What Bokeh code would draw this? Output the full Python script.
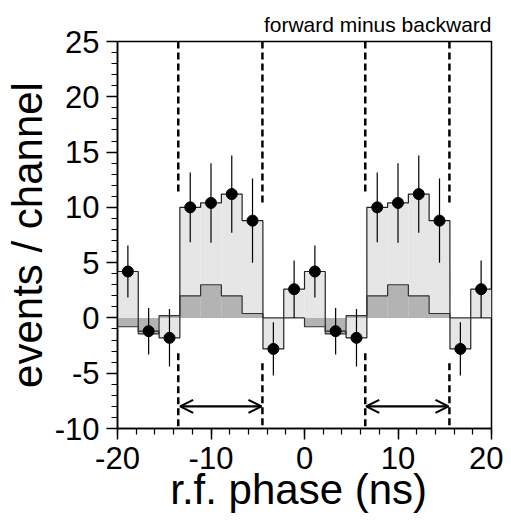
from bokeh.plotting import figure
from bokeh.models import Arrow, OpenHead, FixedTicker, ColumnDataSource
from bokeh.embed import file_html
from bokeh.resources import INLINE

# ---- data ----
bin_centers = [-18.89, -16.67, -14.44, -12.22, -10.0, -7.78, -5.56, -3.33, -1.11,
               1.11, 3.33, 5.56, 7.78, 10.0, 12.22, 14.44, 16.67, 18.89]
bin_width = 2.222
counts = [4.2, -1.2, -1.8, 10.0, 10.4, 11.2, 8.8, -2.8, 2.6,
          4.2, -1.2, -1.8, 10.0, 10.4, 11.2, 8.8, -2.8, 2.6]
errors = [2.35, 2.1, 2.6, 3.15, 3.6, 3.5, 3.8, 2.4, 2.6,
          2.35, 2.1, 2.6, 3.15, 3.6, 3.5, 3.8, 2.4, 2.6]
background = [-0.8, -1.45, 0.2, 2.0, 3.0, 2.0, 0.4, 0.0, 0.0,
              -0.8, -1.45, 0.2, 2.0, 3.0, 2.0, 0.4, 0.0, 0.0]

window_edges = [-13.5, -4.5, 6.5, 15.5]
window_upper_end = [11.1, 10.1, 11.1, 10.1]
window_lower_start = [-3.2, -4.1, -3.2, -4.1]
arrow_starts = [-13.3, 6.6]
arrow_ends = [-4.6, 15.4]
arrow_level = -8.0

x_ticks = [-20, -10, 0, 10, 20]
x_tick_labels = ["-20", "-10", "0", "10", "20"]
x_minor = [-20, -18, -16, -14, -12, -10, -8, -6, -4, -2, 0, 2, 4, 6, 8, 10, 12, 14, 16, 18, 20]
y_ticks = [-10, -5, 0, 5, 10, 15, 20, 25]
y_tick_labels = ["-10", "-5", "0", "5", "10", "15", "20", "25"]
y_minor = list(range(-10, 26))

FONT = "Liberation Sans"

p = figure(frame_width=374, frame_height=387, x_range=(-20, 20), y_range=(-10, 25),
           output_backend="svg", toolbar_location=None,
           min_border_left=113, min_border_right=12, min_border_top=41, min_border_bottom=84,
           title="forward minus backward")
p.background_fill_color = "white"
p.border_fill_color = "white"
p.xgrid.visible = False
p.ygrid.visible = False
p.outline_line_color = "black"
p.outline_line_width = 1.5

p.title.align = "right"
p.title.text_font = FONT
p.title.text_font_size = "21px"
p.title.text_font_style = "normal"
p.title.text_color = "black"
p.title.standoff = 12

left_edges = [c - bin_width / 2 for c in bin_centers]
right_edges = [c + bin_width / 2 for c in bin_centers]

def step_path(vals):
    xs, ys = [], []
    for l, r, v in zip(left_edges, right_edges, vals):
        xs += [l, r]
        ys += [v, v]
    return xs, ys

src = ColumnDataSource(dict(left=left_edges, right=right_edges, counts=counts,
                            bg=background, x=bin_centers,
                            lo=[c - e for c, e in zip(counts, errors)],
                            hi=[c + e for c, e in zip(counts, errors)]))

p.quad(left="left", right="right", top="counts", bottom=0, source=src,
       fill_color="#e6e6e6", line_color=None)
p.quad(left="left", right="right", top="bg", bottom=0, source=src,
       fill_color="#b3b3b3", line_color=None)
xs, ys = step_path(counts)
p.line(xs, ys, line_color="#222222", line_width=1.2)
xs, ys = step_path(background)
p.line(xs, ys, line_color="#333333", line_width=1.2)

# window markers
p.segment(x0=window_edges, y0=[25] * 4, x1=window_edges, y1=window_upper_end,
          line_color="black", line_width=2.5, line_dash="7 4")
p.segment(x0=window_edges, y0=window_lower_start, x1=window_edges, y1=[-10] * 4,
          line_color="black", line_width=2.5, line_dash="7 4")
for a, b in zip(arrow_starts, arrow_ends):
    p.add_layout(Arrow(start=OpenHead(size=13, line_width=2.2), end=OpenHead(size=13, line_width=2.2),
                       x_start=a, y_start=arrow_level, x_end=b, y_end=arrow_level,
                       line_width=2.2, line_color="black"))

# data points
p.segment(x0="x", y0="lo", x1="x", y1="hi", source=src, line_color="black", line_width=1.2)
p.scatter(x="x", y="counts", source=src, size=11, fill_color="black", line_color="black")

for ax, ticks, minor, labels in [(p.xaxis[0], x_ticks, x_minor, x_tick_labels),
                                 (p.yaxis[0], y_ticks, y_minor, y_tick_labels)]:
    ax.ticker = FixedTicker(ticks=ticks, minor_ticks=minor)
    ax.major_label_overrides = {t: l for t, l in zip(ticks, labels)}
    ax.axis_line_width = 1.5
    ax.axis_line_color = "black"
    ax.major_tick_line_width = 1.5
    ax.major_tick_line_color = "black"
    ax.minor_tick_line_width = 1.2
    ax.minor_tick_line_color = "black"
    ax.major_tick_in = 0
    ax.major_tick_out = 11
    ax.minor_tick_in = 0
    ax.minor_tick_out = 6
    ax.major_label_text_font = FONT
    ax.major_label_text_font_size = "31px"
    ax.major_label_text_color = "black"
    ax.axis_label_text_font = FONT
    ax.axis_label_text_font_size = "42px"
    ax.axis_label_text_font_style = "normal"
    ax.axis_label_text_color = "black"

p.xaxis.axis_label = "r.f. phase  (ns)"
p.yaxis.axis_label = "events / channel"
p.xaxis.major_label_standoff = 7
p.yaxis.major_label_standoff = 7
p.xaxis.axis_label_standoff = -6
p.yaxis.axis_label_standoff = 1

open("out.html", "w").write(file_html(p, INLINE))
